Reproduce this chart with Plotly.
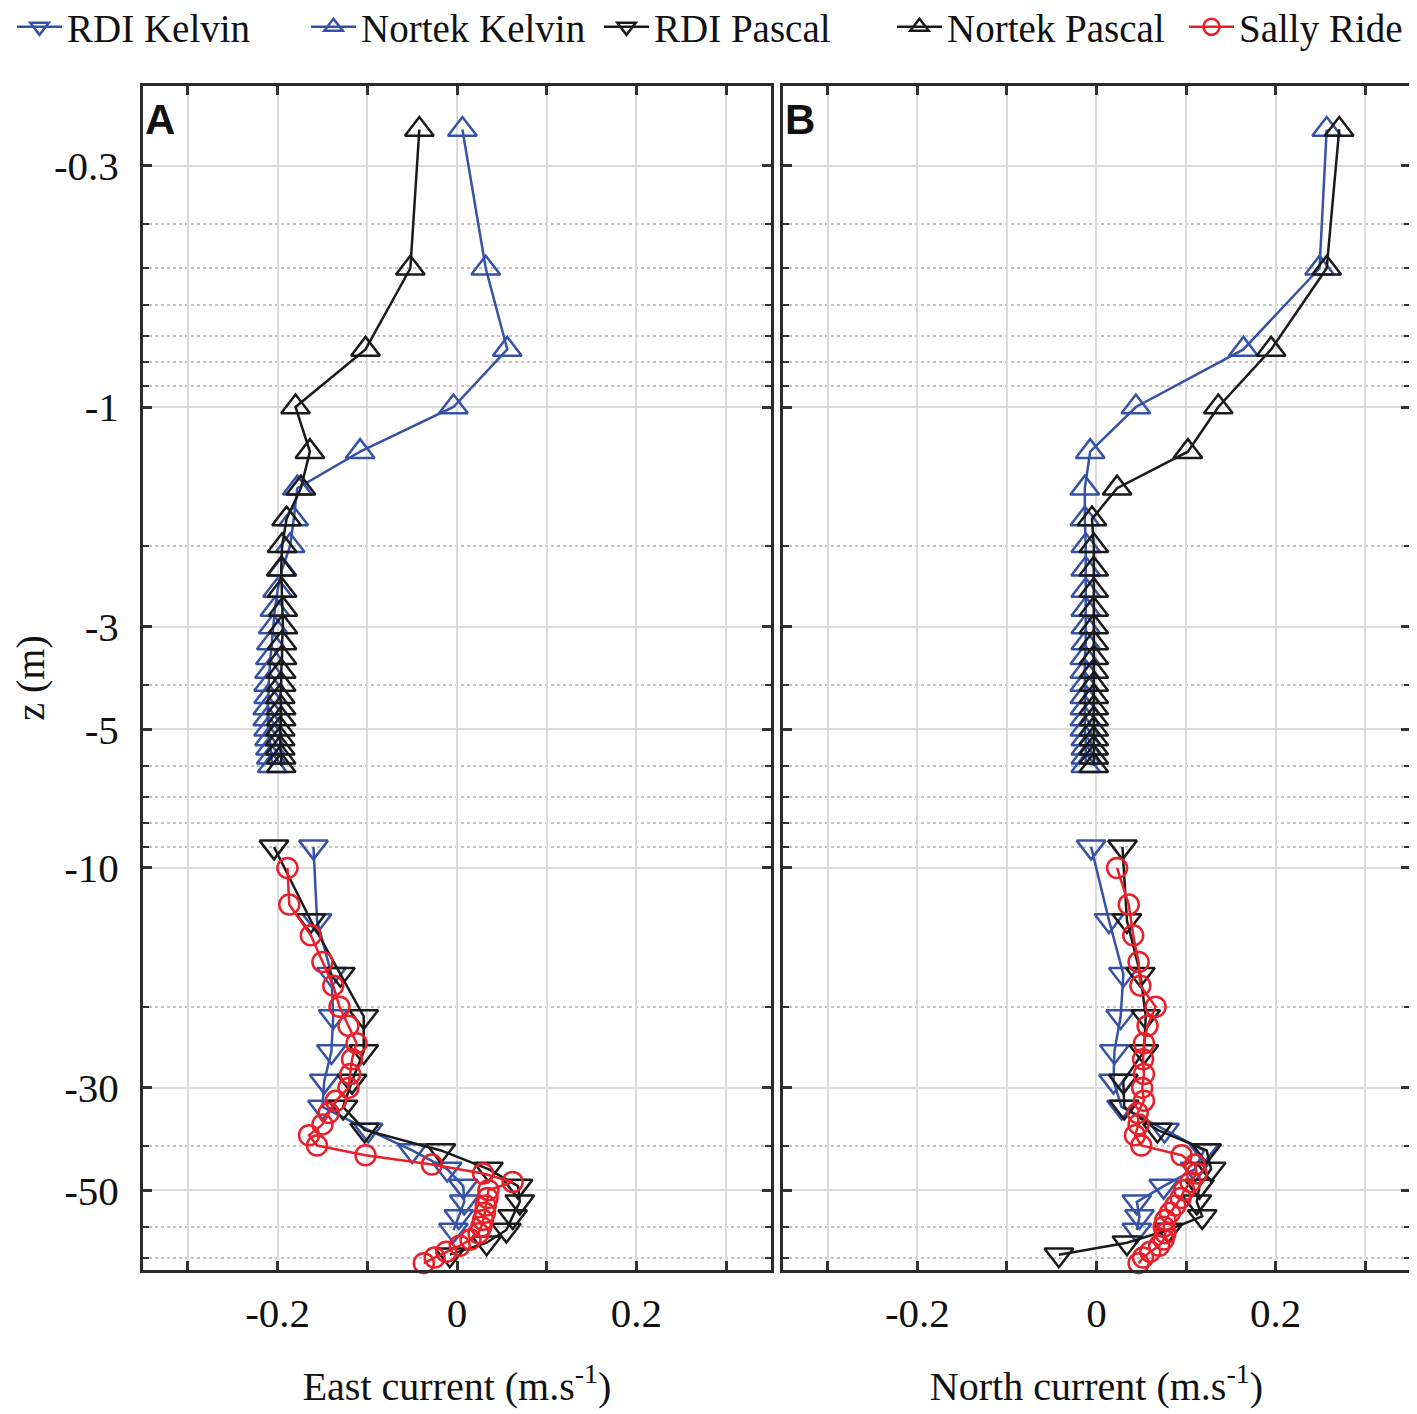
import math
import plotly.graph_objects as go

# depths (m, positive downward) and velocity components (m/s)
depth_nortek = [0.25, 0.5, 0.75, 1.0, 1.25, 1.5, 1.75, 2.0, 2.25, 2.5, 2.75, 3.0,
                3.25, 3.5, 3.75, 4.0, 4.25, 4.5, 4.75, 5.0, 5.25, 5.5, 5.75, 6.0]
depth_rdi_kelvin = [9, 13, 17, 21, 25, 29, 33, 37, 41, 45, 49, 53, 57, 61]
depth_rdi_pascal = [9, 13, 17, 21, 25, 29, 33, 37, 41, 45, 49, 53, 57, 61, 65, 69]
depth_sally = [10, 12, 14, 16, 18, 20, 22, 24, 26, 28, 30, 32, 34, 36, 38, 40,
               42, 44, 46, 48, 50, 52, 54, 56, 58, 60, 62, 64, 66, 68, 70, 72]

east_nortek_kelvin = [0.006, 0.032, 0.056, -0.004, -0.108, -0.178, -0.182, -0.186,
                      -0.195, -0.200, -0.203, -0.205, -0.207, -0.208, -0.209, -0.210,
                      -0.210, -0.211, -0.211, -0.210, -0.209, -0.208, -0.207, -0.206]
east_nortek_pascal = [-0.042, -0.052, -0.102, -0.180, -0.164, -0.174, -0.190, -0.195,
                      -0.196, -0.195, -0.194, -0.194, -0.195, -0.195, -0.196, -0.196,
                      -0.197, -0.196, -0.196, -0.197, -0.197, -0.197, -0.196, -0.196]
east_rdi_kelvin = [-0.160, -0.156, -0.140, -0.138, -0.140, -0.148, -0.150, -0.099,
                   -0.050, -0.011, 0.007, 0.008, 0.002, -0.004]
east_rdi_pascal = [-0.204, -0.163, -0.130, -0.104, -0.104, -0.117, -0.127, -0.103,
                   -0.018, 0.035, 0.068, 0.070, 0.062, 0.055, 0.033, -0.008]
east_sally = [-0.189, -0.187, -0.163, -0.150, -0.138, -0.131, -0.121, -0.112,
              -0.117, -0.119, -0.121, -0.135, -0.143, -0.150, -0.165, -0.156,
              -0.102, -0.028, 0.029, 0.062, 0.035, 0.034, 0.032, 0.031,
              0.029, 0.027, 0.024, 0.015, 0.003, -0.012, -0.025, -0.037]

north_nortek_kelvin = [0.257, 0.249, 0.164, 0.044, -0.007, -0.013, -0.013, -0.012,
                       -0.012, -0.012, -0.012, -0.012, -0.012, -0.013, -0.013, -0.013,
                       -0.013, -0.013, -0.013, -0.013, -0.012, -0.012, -0.012, -0.012]
north_nortek_pascal = [0.271, 0.257, 0.195, 0.136, 0.102, 0.023, -0.005, -0.003,
                       -0.003, -0.003, -0.003, -0.003, -0.003, -0.003, -0.003, -0.003,
                       -0.003, -0.003, -0.003, -0.003, -0.003, -0.003, -0.003, -0.003]
north_rdi_kelvin = [-0.006, 0.014, 0.030, 0.027, 0.020, 0.019, 0.028, 0.076,
                    0.120, 0.110, 0.075, 0.045, 0.048, 0.045]
north_rdi_pascal = [0.029, 0.034, 0.049, 0.055, 0.053, 0.030, 0.031, 0.068,
                    0.123, 0.128, 0.115, 0.112, 0.118, 0.080, 0.034, -0.042]
north_sally = [0.023, 0.036, 0.041, 0.047, 0.049, 0.066, 0.057, 0.053,
               0.052, 0.053, 0.051, 0.053, 0.046, 0.047, 0.043, 0.050,
               0.095, 0.110, 0.112, 0.105, 0.098, 0.094, 0.088, 0.082,
               0.077, 0.075, 0.077, 0.075, 0.070, 0.060, 0.052, 0.047]

z_ticks = [0.3, 1, 3, 5, 10, 30, 50]
z_ticklabels = ["-0.3", "-1", "-3", "-5", "-10", "-30", "-50"]
z_minor = [0.2, 0.4, 0.5, 0.6, 0.7, 0.8, 0.9, 2, 4, 6, 7, 8, 9, 20, 40, 60, 70]
u_ticks = [-0.3, -0.2, -0.1, 0, 0.1, 0.2, 0.3]
u_ticklabels = ["", "-0.2", "", "0", "", "0.2", ""]

BLUE = "#3652a6"
BLACK = "#1a1a1a"
RED = "#e8202a"
FONT = "Liberation Serif"

# name, depths, east, north, colour, marker, size, legend id, legend left (px)
series = [
    ("RDI Kelvin", depth_rdi_kelvin, east_rdi_kelvin, north_rdi_kelvin, BLUE, "triangle-down-open", 25, "legend", 4),
    ("Nortek Kelvin", depth_nortek, east_nortek_kelvin, north_nortek_kelvin, BLUE, "triangle-up-open", 25, "legend2", 298),
    ("RDI Pascal", depth_rdi_pascal, east_rdi_pascal, north_rdi_pascal, BLACK, "triangle-down-open", 25, "legend3", 591),
    ("Nortek Pascal", depth_nortek, east_nortek_pascal, north_nortek_pascal, BLACK, "triangle-up-open", 25, "legend4", 884),
    ("Sally Ride", depth_sally, east_sally, north_sally, RED, "circle-open", 20, "legend5", 1176),
]

# the page body adds an 8px offset, so the margins are shifted to compensate
ML, MR, MT, MB = 135, 15, 78, 152
W, H = 1417, 1414
pw, ph = W - ML - MR, H - MT - MB

fig = go.Figure()
legends = {}
for name, depth, east, north, color, symbol, size, leg, left in series:
    for vals, xa, ya, show in [(east, "x", "y", True), (north, "x2", "y2", False)]:
        fig.add_trace(go.Scatter(
            x=vals, y=depth, name=name, mode="lines+markers",
            xaxis=xa, yaxis=ya, showlegend=show, legend=leg, cliponaxis=False,
            line=dict(color=color, width=2.5),
            marker=dict(symbol=symbol, size=size, color=color, line=dict(width=2.5, color=color)),
        ))
    legends[leg] = dict(
        orientation="h", x=(left - ML) / pw, xanchor="left",
        y=1 + (MT + 13) / ph, yanchor="top",
        bgcolor="rgba(0,0,0,0)", font=dict(family=FONT, size=39, color="#111"),
        itemwidth=45,
    )

xaxis_style = dict(
    range=[-0.35, 0.35], tickmode="array", tickvals=u_ticks, ticktext=u_ticklabels,
    ticks="inside", ticklen=9, tickwidth=2.5, tickcolor="#333333",
    showline=True, linewidth=3, linecolor="#2a2a2a", mirror="allticks",
    showgrid=True, gridcolor="#dcdcdc", gridwidth=2, zeroline=False,
    tickfont=dict(family=FONT, size=41, color="#111"), ticklabelstandoff=5,
    title_font=dict(family=FONT, size=40, color="#111"), title_standoff=37,
)
yaxis_style = dict(
    type="log", range=[math.log10(74.5), math.log10(0.2012)],
    tickmode="array", tickvals=z_ticks, ticktext=z_ticklabels,
    ticks="inside", ticklen=9, tickwidth=2.5, tickcolor="#333333",
    showline=True, linewidth=3, linecolor="#2a2a2a", mirror="allticks",
    showgrid=True, gridcolor="#dcdcdc", gridwidth=2, zeroline=False,
    minor=dict(tickmode="array", tickvals=z_minor, ticks="inside", ticklen=6,
               tickwidth=2, tickcolor="#333333", showgrid=True,
               gridcolor="#c4c4c4", gridwidth=2, griddash="dot"),
    tickfont=dict(family=FONT, size=41, color="#111"), ticklabelstandoff=13,
    title_font=dict(family=FONT, size=40, color="#111"),
)

fig.update_layout(
    width=W, height=H,
    margin=dict(l=ML, r=MR, t=MT, b=MB, autoexpand=False),
    paper_bgcolor="white", plot_bgcolor="white",
    font=dict(family=FONT, size=38, color="#111"),
    xaxis=dict(xaxis_style, domain=[0, 0.4957], anchor="y",
               title_text="East current (m.s<sup>-1</sup>)"),
    xaxis2=dict(xaxis_style, domain=[0.5051, 1], anchor="y2",
                title_text="North current (m.s<sup>-1</sup>)"),
    yaxis=dict(yaxis_style, anchor="x", title_text="z (m)", title_standoff=6),
    yaxis2=dict(yaxis_style, anchor="x2", matches="y", showticklabels=False),
    annotations=[
        dict(text="<b>A</b>", xref="x domain", yref="y domain", x=0.0, y=0.993,
             xanchor="left", yanchor="top", showarrow=False,
             font=dict(family="Liberation Sans", size=42, color="#111")),
        dict(text="<b>B</b>", xref="x2 domain", yref="y2 domain", x=0.0, y=0.993,
             xanchor="left", yanchor="top", showarrow=False,
             font=dict(family="Liberation Sans", size=42, color="#111")),
    ],
    **legends,
)

fig.write_html("out.html")
